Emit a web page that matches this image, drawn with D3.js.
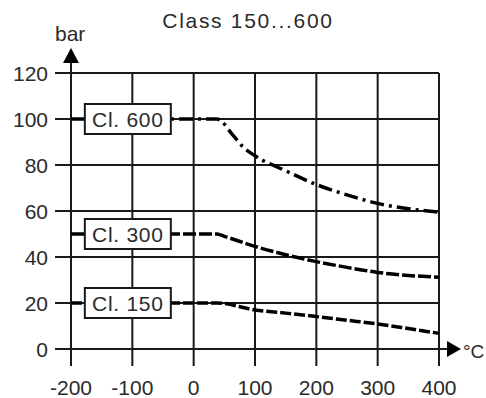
<!DOCTYPE html>
<html><head><meta charset="utf-8">
<script src="https://cdn.jsdelivr.net/npm/d3@7"></script>
<style>
html,body{margin:0;padding:0;background:#fff;}
svg text{font-family:"Liberation Sans",Arial,sans-serif;fill:#2a2a2a;}
</style></head>
<body><svg id="c" width="486" height="398"></svg>
<script>
const xTicks = [-200,-100,0,100,200,300,400];
const yTicks = [0,20,40,60,80,100,120];
const classNames = ["Cl. 600","Cl. 300","Cl. 150"];
const cl600 = [[-200,100],[38,100],[64,93],[80,88],[100,84],[150,77.5],[200,71.5],[250,67],[300,63.3],[350,61],[400,59.5]];
const cl300 = [[-200,50],[38,50],[50,49],[100,44.6],[150,41],[200,38],[250,35.5],[300,33.3],[350,32],[400,31.2]];
const cl150 = [[-200,20],[38,20],[100,17],[150,15.6],[200,14.1],[250,12.5],[300,10.9],[350,8.9],[400,6.8]];
const labelX = -100;

const svg = d3.select("#c");
const x = d3.scaleLinear().domain([-200,400]).range([71,439]);
const y = d3.scaleLinear().domain([0,120]).range([349,73]);

// grid
const g = svg.append("g").attr("stroke","#1a1a1a").attr("stroke-width",2);
yTicks.forEach(v=>{
  g.append("line").attr("x1",55).attr("x2",x(400)).attr("y1",y(v)).attr("y2",y(v));
});
xTicks.forEach(v=>{
  g.append("line").attr("x1",x(v)).attr("x2",x(v)).attr("y1",v===-200?60:y(120)).attr("y2",366);
});
// x axis extension
g.append("line").attr("x1",x(400)).attr("x2",450).attr("y1",y(0)).attr("y2",y(0));
// arrows
svg.append("path").attr("d",`M${x(-200)-8},${63} L${x(-200)+8},${63} L${x(-200)},${48} Z`).attr("fill","#000");
svg.append("path").attr("d",`M447,${y(0)-8} L447,${y(0)+8} L461,${y(0)} Z`).attr("fill","#000");

// tick labels
yTicks.forEach(v=>{
  svg.append("text").attr("x",48).attr("y",y(v)).attr("dy","0.36em").attr("text-anchor","end")
    .attr("font-size",21).text(v);
});
xTicks.forEach(v=>{
  svg.append("text").attr("x",x(v)).attr("y",395).attr("text-anchor","middle")
    .attr("font-size",21).text(v);
});
svg.append("text").attr("x",55).attr("y",41).attr("font-size",21).text("bar");
svg.append("text").attr("x",463).attr("y",358).attr("font-size",19).text("°C");
svg.append("text").attr("x",248).attr("y",28).attr("text-anchor","middle").attr("font-size",21)
  .attr("letter-spacing",1.7).text("Class 150...600");

// curves
const line = d3.line().x(d=>x(d[0])).y(d=>y(d[1])).curve(d3.curveMonotoneX);
const series = [
  {data:cl600, dash:"14,5,3,5"},
  {data:cl300, dash:"13,3"},
  {data:cl150, dash:"11,3"}
];
series.forEach(s=>{
  svg.append("path").attr("d",line(s.data)).attr("fill","none").attr("stroke","#000")
    .attr("stroke-width",3.5).attr("stroke-dasharray",s.dash);
});

// label boxes
series.forEach((s,i)=>{
  const cy = y(s.data[0][1]);
  svg.append("rect").attr("x",x(labelX)-47.5).attr("y",cy-15).attr("width",86).attr("height",30)
    .attr("fill","#fff").attr("stroke","#1a1a1a").attr("stroke-width",2);
  svg.append("text").attr("x",x(labelX)-4.5).attr("y",cy).attr("dy","0.36em").attr("text-anchor","middle")
    .attr("font-size",21).attr("letter-spacing",0.7).text(classNames[i]);
});
</script></body></html>
